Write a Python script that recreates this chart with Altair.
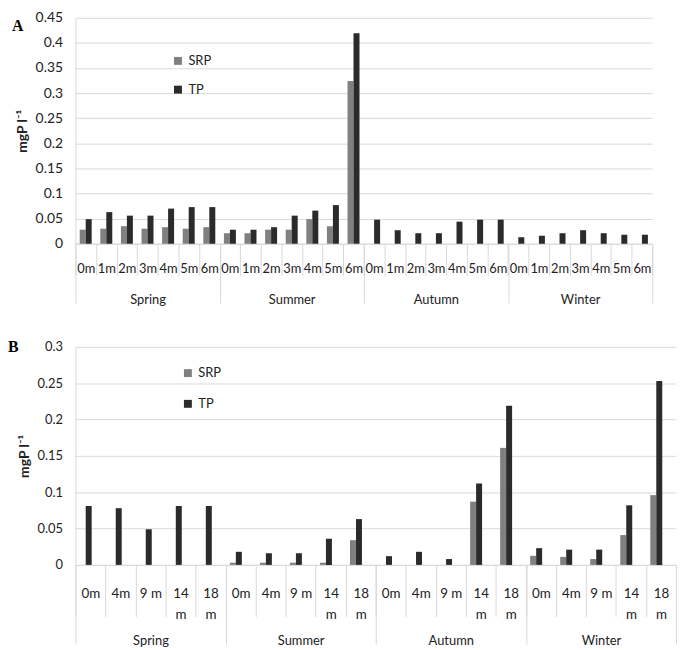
import altair as alt
import pandas as pd

seasons = ["Spring", "Summer", "Autumn", "Winter"]
series = ["SRP", "TP"]
series_colors = ["#808080", "#2b2b2b"]

depths_a = ["0m", "1m", "2m", "3m", "4m", "5m", "6m"]
srp_a = [0.028, 0.030, 0.035, 0.030, 0.033, 0.030, 0.033,
         0.021, 0.021, 0.028, 0.028, 0.049, 0.035, 0.324,
         0, 0, 0, 0, 0, 0, 0,
         0, 0, 0, 0, 0, 0, 0]
tp_a = [0.049, 0.063, 0.056, 0.056, 0.070, 0.073, 0.073,
        0.028, 0.028, 0.033, 0.056, 0.066, 0.077, 0.419,
        0.048, 0.027, 0.021, 0.021, 0.044, 0.048, 0.048,
        0.013, 0.016, 0.021, 0.027, 0.021, 0.018, 0.018]
yticks_a = [0, 0.05, 0.1, 0.15, 0.2, 0.25, 0.3, 0.35, 0.4, 0.45]

depths_b = ["0m", "4m", "9 m", "14 m", "18 m"]
srp_b = [0, 0, 0, 0, 0,
         0.003, 0.003, 0.003, 0.003, 0.034,
         0, 0, 0, 0.087, 0.161,
         0.0125, 0.011, 0.008, 0.041, 0.096]
tp_b = [0.081, 0.078, 0.049, 0.081, 0.081,
        0.018, 0.016, 0.016, 0.036, 0.063,
        0.012, 0.018, 0.008, 0.112, 0.219,
        0.023, 0.021, 0.021, 0.082, 0.253]
yticks_b = [0, 0.05, 0.1, 0.15, 0.2, 0.25, 0.3]

FONT = "Lato"
GRID = "#d9d9d9"
TXT = "#222222"


def make_panel(letter, depths, srp, tp, yticks, width, height, off_pad,
               dep_tick, dep_pad, sea_tick, sea_pad, leg_x, leg_y, leg_row,
               letter_x, letter_y, ylab_size, xlab_size):
    keys = [f"{s}|{d}" for s in seasons for d in depths]
    rows = []
    for i, k in enumerate(keys):
        rows.append({"key": k, "series": "SRP", "value": srp[i]})
        rows.append({"key": k, "series": "TP", "value": tp[i]})
    df = pd.DataFrame(rows)

    lab = "split(datum.label, '|')[1]"
    label_expr = (f"indexof(datum.label + '', '|') < 0 ? '' : "
                  f"(length(split({lab}, ' ')[0]) > 1 ? split({lab}, ' ') : {lab})")

    bars = alt.Chart(df).mark_bar().encode(
        x=alt.X("key:N", sort=keys,
                scale=alt.Scale(paddingInner=0, paddingOuter=0),
                axis=alt.Axis(title=None, orient="bottom", labelExpr=label_expr,
                              labelAngle=0,
                              tickBand="extent", tickSize=dep_tick, tickColor=GRID,
                              domainColor=GRID, labelPadding=dep_pad,
                              labelFont=FONT, labelFontSize=xlab_size, labelColor=TXT,
                              labelOverlap=False, labelLineHeight=21,
                              labelBaseline="top")),
        xOffset=alt.XOffset("series:N", sort=series,
                            scale=alt.Scale(paddingInner=0, paddingOuter=off_pad)),
        y=alt.Y("value:Q",
                scale=alt.Scale(domain=[0, max(yticks)], nice=False),
                axis=alt.Axis(title="mgP l\u207b\u00b9", values=yticks, format="~g",
                              ticks=False, domainColor=GRID, gridColor=GRID,
                              labelFont=FONT, labelFontSize=ylab_size, labelColor=TXT,
                              labelPadding=13, titleFont=FONT, titleFontSize=14,
                              titleFontWeight="bold", titleColor=TXT,
                              titlePadding=6)),
        color=alt.Color("series:N",
                        scale=alt.Scale(domain=series, range=series_colors),
                        legend=alt.Legend(title=None, orient="none",
                                          legendX=leg_x, legendY=leg_y,
                                          symbolType="square", symbolSize=64,
                                          symbolStrokeWidth=0, labelFont=FONT,
                                          labelFontSize=13, labelColor=TXT,
                                          rowPadding=leg_row, labelOffset=4)),
    )

    season_df = pd.DataFrame({"season": seasons})
    season_axis = alt.Chart(season_df).mark_point(opacity=0).encode(
        x=alt.X("season:N", sort=seasons,
                scale=alt.Scale(paddingInner=0, paddingOuter=0),
                axis=alt.Axis(title=None, orient="bottom", labelAngle=0,
                              tickBand="extent",
                              tickSize=sea_tick, tickColor=GRID, domain=False,
                              labelPadding=sea_pad, labelFont=FONT,
                              labelFontSize=13, labelColor=TXT,
                              labelBaseline="top")),
    )

    letter_df = pd.DataFrame({"t": [letter]})
    letter_mark = alt.Chart(letter_df).mark_text(
        font="Liberation Serif", fontWeight="bold", fontSize=16,
        align="left", baseline="alphabetic", color="black"
    ).encode(x=alt.value(letter_x), y=alt.value(letter_y), text="t:N")

    return alt.layer(bars, season_axis, letter_mark).resolve_scale(
        x="independent"
    ).properties(width=width, height=height)


panel_a = make_panel("A", depths_a, srp_a, tp_a, yticks_a, 582, 228, 0.72,
                     32, -13, 60, -10, 97, 37, 15, -64, 13, 14, 13)
panel_b = make_panel("B", depths_b, srp_b, tp_b, yticks_b, 606, 220, 0.63,
                     52, -30, 80, -10, 107, 20, 17, -68, 5, 13, 13.5)

chart = alt.concat(panel_a, panel_b, columns=1, spacing=33, align="none").properties(
    padding=0
).resolve_scale(color="independent").resolve_legend(color="independent"
).configure_view(stroke=None)

chart.save("out.html", embed_options={"renderer": "svg", "actions": False})
